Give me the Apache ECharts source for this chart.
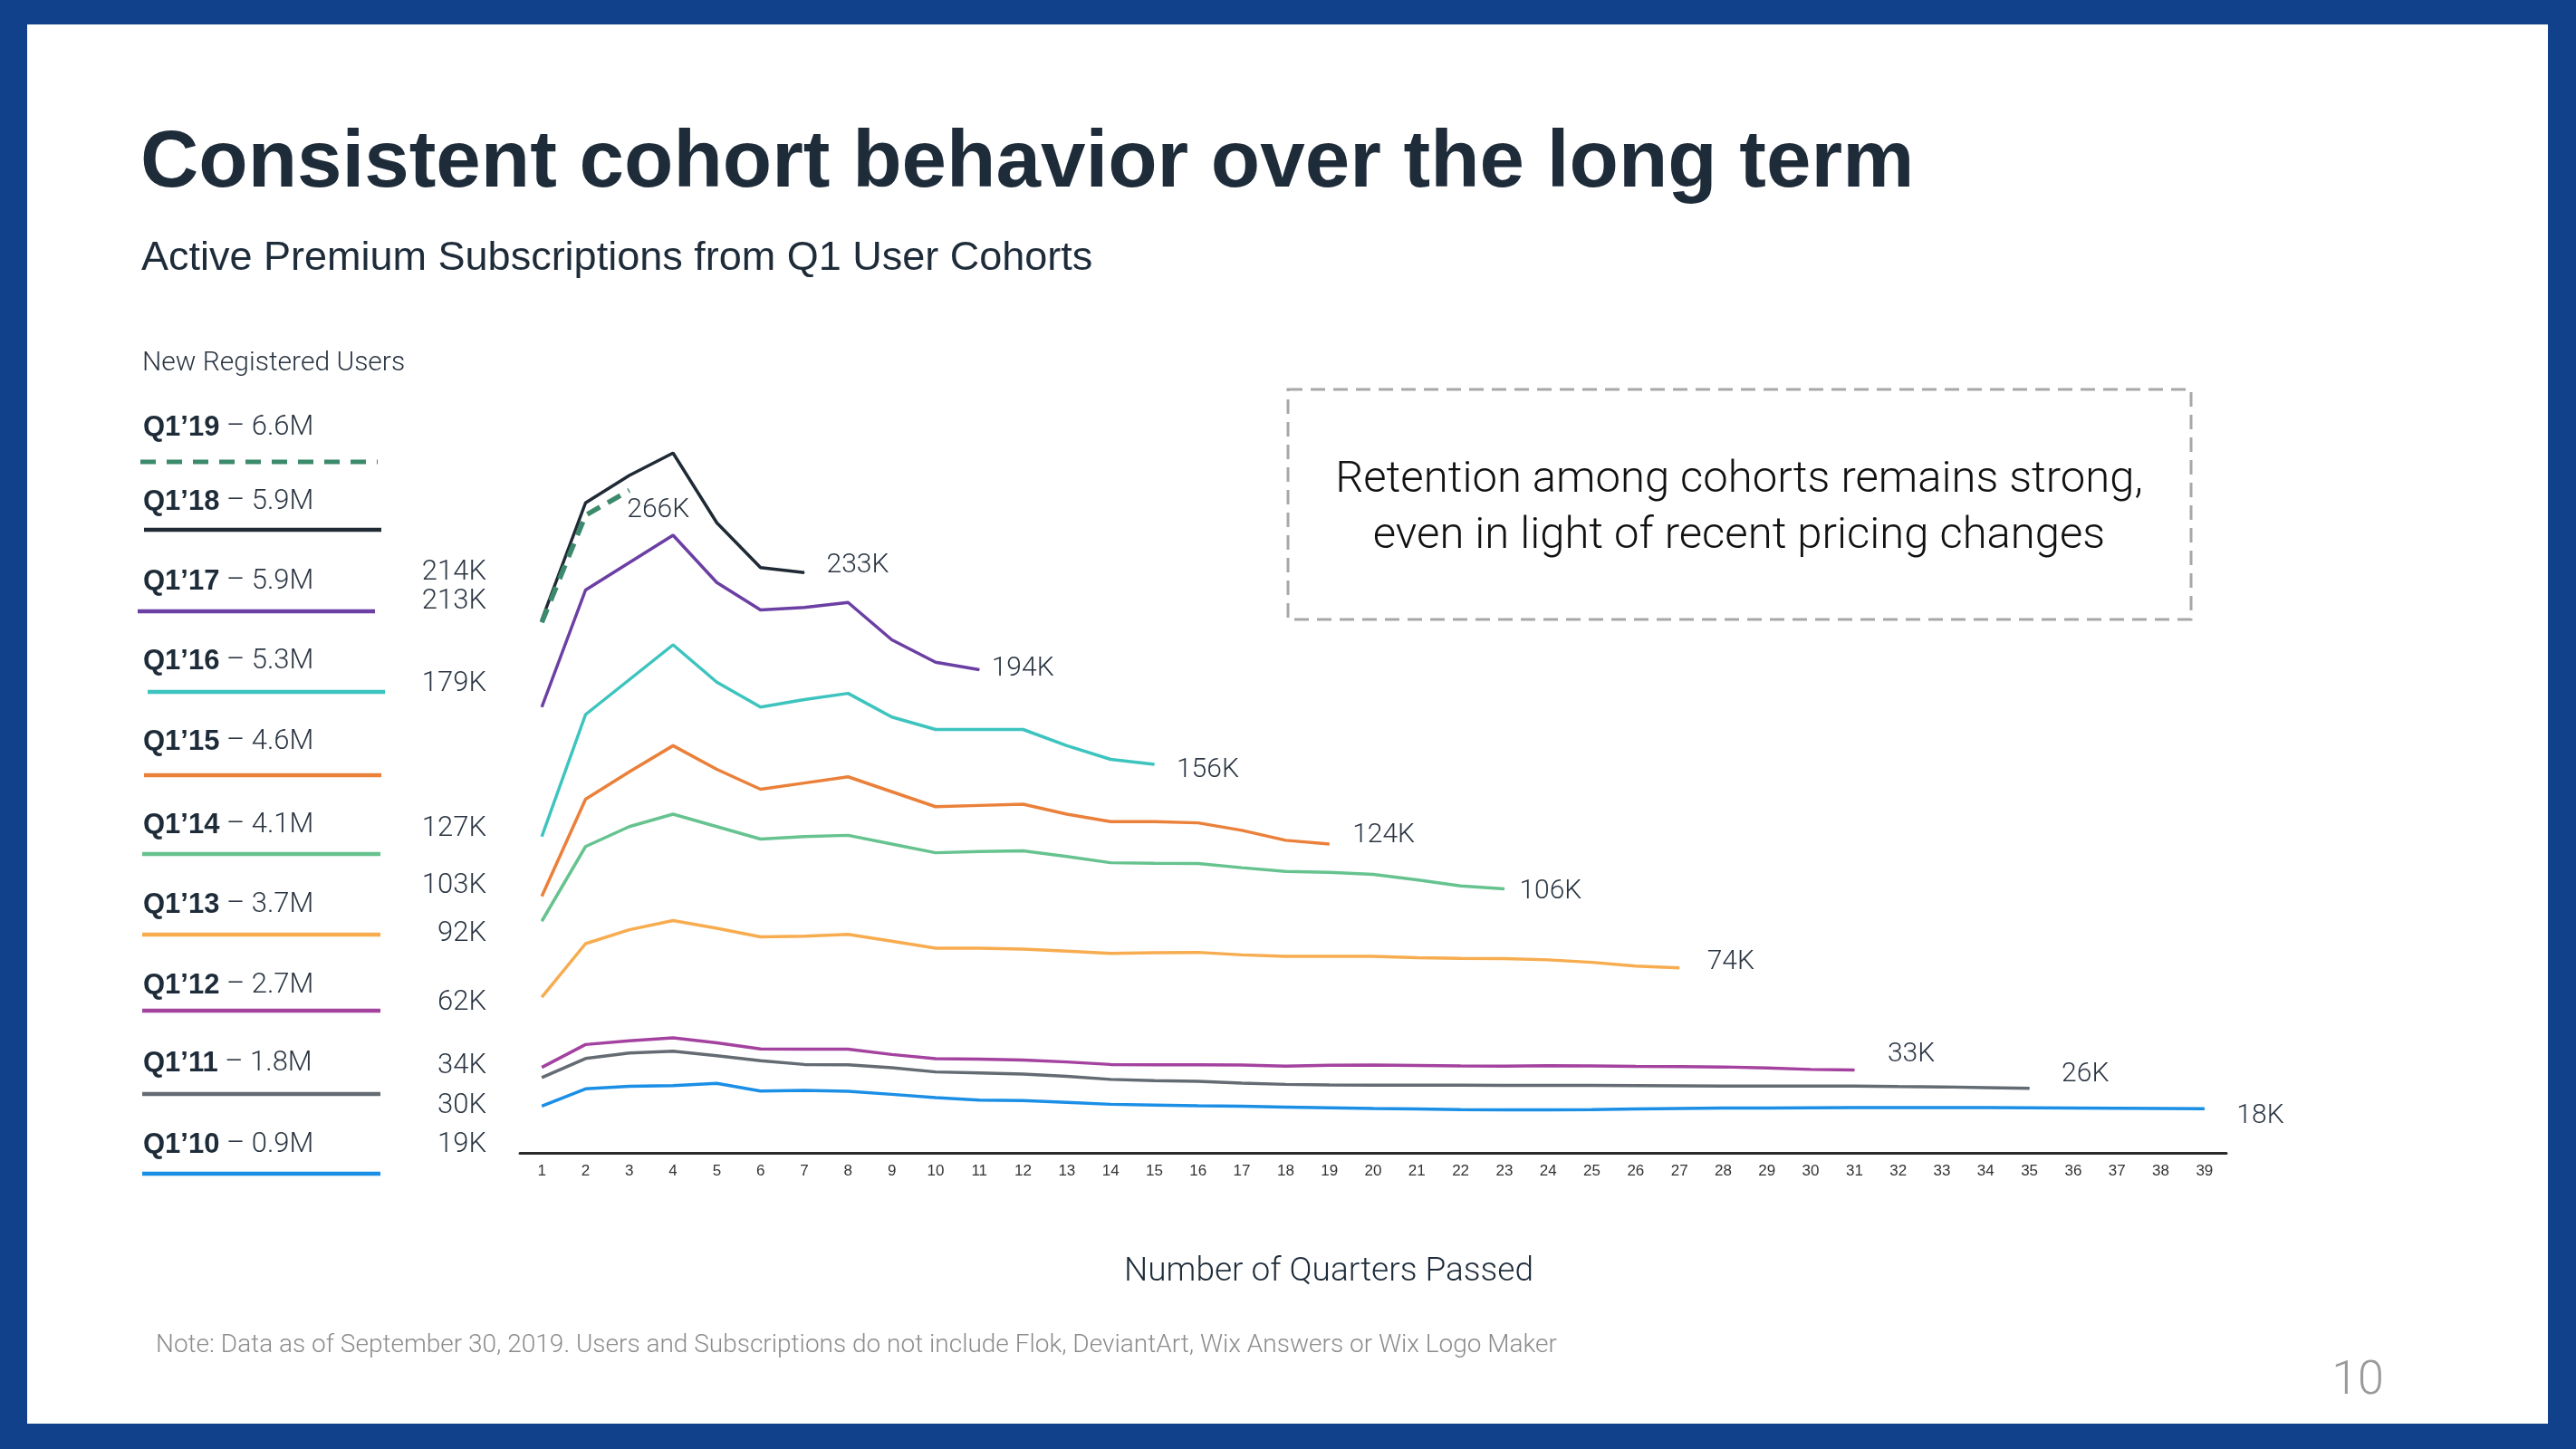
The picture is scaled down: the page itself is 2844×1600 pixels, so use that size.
<!DOCTYPE html>
<html>
<head>
<meta charset="utf-8">
<script src="https://cdn.jsdelivr.net/npm/echarts@6/dist/echarts.min.js"></script>
<style>
html,body{margin:0;padding:0;background:#fff;}
#chart{width:2844px;height:1600px;}
</style>
</head>
<body>
<div id="chart"></div>
<script>
// ---------- DATA ----------
const quarters = Array.from({length: 39}, (_, i) => String(i + 1));
const cohorts = ["Q1\u201919", "Q1\u201918", "Q1\u201917", "Q1\u201916", "Q1\u201915", "Q1\u201914", "Q1\u201913", "Q1\u201912", "Q1\u201911", "Q1\u201910"];
const newUsers = ["6.6M", "5.9M", "5.9M", "5.3M", "4.6M", "4.1M", "3.7M", "2.7M", "1.8M", "0.9M"];

const q19 = [213, 256, 266];
const q18 = [214, 261, 272, 281, 253, 235, 233];
const q17 = [179, 226, 237, 248, 229, 218, 219, 221, 206, 197, 194];
const q16 = [127, 176, 190, 204, 189, 179, 182, 184.5, 175, 170, 170, 170, 163.5, 158, 156];
const q15 = [103, 142, 153, 163.5, 154, 146, 148.5, 151, 145, 139, 139.5, 140, 136, 133, 133, 132.5, 129.5, 125.5, 124];
const q14 = [93, 123, 131, 136, 131, 126, 127, 127.5, 124, 120.5, 121, 121.3, 119, 116.5, 116.3, 116.2, 114.5, 113, 112.6, 111.8, 109.6, 107.2, 106];
const q13 = [62.5, 84, 89.6, 93.3, 90.2, 86.7, 87, 87.7, 85, 82.2, 82.2, 81.8, 81, 80.1, 80.4, 80.5, 79.5, 78.9, 78.9, 78.9, 78.4, 78.1, 78, 77.5, 76.5, 75, 74.3];
const q12 = [34.3, 43.5, 45, 46.2, 44.2, 41.7, 41.6, 41.6, 39.5, 37.8, 37.6, 37.3, 36.5, 35.5, 35.4, 35.4, 35.3, 34.8, 35.2, 35.3, 35.1, 34.9, 34.8, 35, 34.9, 34.7, 34.6, 34.5, 34.1, 33.5, 33.3];
const q11 = [30.2, 37.9, 40.1, 40.8, 39, 37, 35.5, 35.4, 34.2, 32.5, 32.1, 31.6, 30.7, 29.5, 29, 28.7, 28, 27.5, 27.3, 27.2, 27.2, 27.2, 27.1, 27.1, 27.1, 27, 26.9, 26.8, 26.8, 26.8, 26.8, 26.6, 26.5, 26.2, 25.9];
const q10 = [18.8, 25.7, 26.7, 27, 27.9, 24.8, 25.1, 24.7, 23.5, 22.2, 21.2, 21, 20.3, 19.5, 19.2, 18.9, 18.7, 18.4, 18.1, 17.8, 17.6, 17.4, 17.3, 17.3, 17.4, 17.6, 17.8, 18, 18, 18.1, 18.2, 18.2, 18.2, 18.2, 18.1, 18, 17.9, 17.8, 17.7];

const startLabels = ["214K", "213K", "179K", "127K", "103K", "92K", "62K", "34K", "30K", "19K"];
const endLabels = ["266K", "233K", "194K", "156K", "124K", "106K", "74K", "33K", "26K", "18K"];

// ---------- STYLE / LAYOUT ----------
const seriesValues = [q19, q18, q17, q16, q15, q14, q13, q12, q11, q10];
const colors = ["#3b8a6b", "#1f2a35", "#6b3fa3", "#3dc4be", "#ea803a", "#66c38f", "#f7ac4f", "#a4429f", "#646b73", "#1b8fe6"];
const endOffsets = [[-3, 22], [24, -8], [13, -1], [24, 6], [25, -10], [16, 3], [30, -6], [36, -17], [35, -15], [35, 8]];
const legendTextY = [472, 554, 642, 730, 819, 911, 999, 1088, 1174, 1264];
const legendLineY = [510, 585, 675, 764, 856, 943, 1032, 1116, 1208, 1296];
const legendLineX = [[155, 417], [159, 421], [152, 414], [163, 425], [159, 421], [157, 420], [157, 420], [157, 420], [157, 420], [157, 420]];
const startLabelY = [632, 664, 755, 915, 978, 1031, 1107, 1177, 1221, 1264];

const LIGHT = "Roboto";
const SANS = "'Liberation Sans', Arial, sans-serif";
const navy = "#1e2c3a";
const labelColor = "#2a3542";

const series = [];
// draw older cohorts first so Q1'19 dashed ends on top
for (let k = seriesValues.length - 1; k >= 0; k--) {
  const vals = seriesValues[k];
  const data = vals.map((v, i) => {
    if (i === vals.length - 1) {
      return {
        value: v,
        symbol: 'circle',
        symbolSize: 1,
        label: {
          show: true,
          position: 'right',
          distance: 0,
          offset: endOffsets[k],
          formatter: endLabels[k],
          fontFamily: LIGHT,
          fontWeight: 300,
          fontSize: 30,
          color: labelColor
        }
      };
    }
    return { value: v, symbol: 'none' };
  });
  series.push({
    name: cohorts[k],
    type: 'line',
    data: data,
    symbol: 'none',
    showSymbol: true,
    showAllSymbol: true,
    smooth: false,
    z: 10 - k,
    label: { show: false },
    lineStyle: k === 0
      ? { color: colors[k], width: 5.5, type: [16, 10] }
      : { color: colors[k], width: 3.5 },
    itemStyle: { color: colors[k] },
    emphasis: { disabled: true },
    silent: true
  });
}

const graphics = [];
// blue frame
const frame = "#11418b";
graphics.push({ type: 'rect', shape: { x: 0, y: 0, width: 2844, height: 27 }, style: { fill: frame }, z: 100 });
graphics.push({ type: 'rect', shape: { x: 0, y: 1572, width: 2844, height: 28 }, style: { fill: frame }, z: 100 });
graphics.push({ type: 'rect', shape: { x: 0, y: 0, width: 30, height: 1600 }, style: { fill: frame }, z: 100 });
graphics.push({ type: 'rect', shape: { x: 2813, y: 0, width: 31, height: 1600 }, style: { fill: frame }, z: 100 });

function txt(text, x, y, opts) {
  return {
    type: 'text',
    z: 50,
    style: Object.assign({
      text: text, x: x, y: y,
      fill: navy,
      fontFamily: SANS,
      fontSize: 30,
      align: 'left', verticalAlign: 'middle',
      textAlign: 'left', textVerticalAlign: 'middle'
    }, opts || {})
  };
}

// title / subtitle
graphics.push(txt("Consistent cohort behavior over the long term", 155, 181, { fontSize: 89, fontWeight: 'bold', fill: navy }));
graphics.push(txt("Active Premium Subscriptions from Q1 User Cohorts", 156, 286, { fontSize: 45, fill: navy }));

// legend header
graphics.push(txt("New Registered Users", 157, 401, { fontFamily: LIGHT, fontWeight: 300, fontSize: 30, fill: labelColor }));

// legend rows
for (let k = 0; k < cohorts.length; k++) {
  graphics.push({
    type: 'text', z: 50,
    style: {
      text: '{b|' + cohorts[k] + '} \u2013 ' + newUsers[k],
      x: 158, y: legendTextY[k],
      fill: labelColor,
      fontFamily: LIGHT, fontWeight: 300, fontSize: 31,
      align: 'left', verticalAlign: 'middle',
      textAlign: 'left', textVerticalAlign: 'middle',
      rich: { b: { fontFamily: SANS, fontWeight: 'bold', fontSize: 31, fill: navy, color: navy } }
    }
  });
  graphics.push({
    type: 'line', z: 50,
    shape: { x1: legendLineX[k][0], y1: legendLineY[k], x2: legendLineX[k][1], y2: legendLineY[k] },
    style: k === 0
      ? { stroke: colors[k], lineWidth: 5, lineDash: [17, 12] }
      : { stroke: colors[k], lineWidth: 4.5 }
  });
}

// starting-value labels
for (let k = 0; k < startLabels.length; k++) {
  graphics.push(txt(startLabels[k], 537, startLabelY[k], {
    fontFamily: LIGHT, fontWeight: 300, fontSize: 31, fill: labelColor,
    align: 'right', textAlign: 'right'
  }));
}

// callout box
graphics.push({
  type: 'rect', z: 40,
  shape: { x: 1422, y: 430, width: 997, height: 254 },
  style: { fill: 'none', stroke: '#a8a8a8', lineWidth: 3, lineDash: [16, 9] }
});
graphics.push(txt("Retention among cohorts remains strong,", 1920, 531, {
  fontFamily: LIGHT, fontWeight: 300, fontSize: 49, fill: "#111", align: 'center', textAlign: 'center'
}));
graphics.push(txt("even in light of recent pricing changes", 1920, 593, {
  fontFamily: LIGHT, fontWeight: 300, fontSize: 49, fill: "#111", align: 'center', textAlign: 'center'
}));

// axis title, footnote, page number
graphics.push(txt("Number of Quarters Passed", 1467, 1405, {
  fontFamily: LIGHT, fontWeight: 300, fontSize: 37, fill: "#1e2c3a", align: 'center', textAlign: 'center'
}));
graphics.push(txt("Note: Data as of September 30, 2019. Users and Subscriptions do not include Flok, DeviantArt, Wix Answers or Wix Logo Maker", 172, 1486, {
  fontFamily: LIGHT, fontWeight: 300, fontSize: 28, fill: "#8c8c8c"
}));
graphics.push(txt("10", 2603, 1526, {
  fontFamily: LIGHT, fontWeight: 300, fontSize: 52, fill: "#9a9a9a", align: 'center', textAlign: 'center'
}));

const chart = echarts.init(document.getElementById('chart'), null, { renderer: 'canvas' });
chart.setOption({
  animation: false,
  backgroundColor: '#ffffff',
  grid: { left: 574, right: 386, top: 448, bottom: 327, containLabel: false },
  xAxis: {
    type: 'category',
    data: quarters,
    boundaryGap: true,
    axisLine: { show: true, lineStyle: { color: '#2b2b2b', width: 3 } },
    axisTick: { show: false },
    axisLabel: { interval: 0, fontFamily: SANS, fontSize: 17, color: '#333', margin: 12 },
    splitLine: { show: false }
  },
  yAxis: {
    type: 'value',
    min: 0, max: 300,
    show: false,
    splitLine: { show: false }
  },
  series: series,
  graphic: { elements: graphics }
});
</script>
</body>
</html>
